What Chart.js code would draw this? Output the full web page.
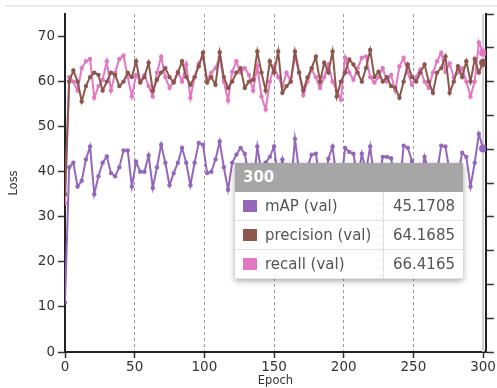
<!DOCTYPE html>
<html>
<head>
<meta charset="utf-8">
<script src="https://cdn.jsdelivr.net/npm/chart.js@4.4.0/dist/chart.umd.min.js"></script>
<style>
    body { margin: 0; background: #fff; }
    #wrap { position: relative; width: 497px; height: 388px; overflow: hidden; }
    #topline { position: absolute; left: 5px; right: 0; top: 5px; border-top: 2px solid #ececec; }
    #tip {
        position: absolute; left: 235px; top: 163px; width: 228px;
        font-family: "DejaVu Sans", sans-serif;
        box-shadow: 0 2px 6px rgba(0, 0, 0, 0.35);
        background: #fff;
    }
    #tip .head {
        height: 29px; line-height: 29px; padding-left: 8px;
        background: rgba(150, 150, 150, 0.85);
        color: #fff; font-weight: bold; font-size: 15px;
    }
    #tip table { border-collapse: collapse; width: 100%; }
    #tip td { height: 28px; border-bottom: 1px solid #e4e4e4; font-size: 15px; color: #555; padding: 0; }
    #tip td.name { padding-left: 8px; border-right: 1px dotted #ccc; width: 140px; white-space: nowrap; }
    #tip td.val { text-align: right; padding-right: 8px; }
    #tip .sw { display: inline-block; width: 14px; height: 12px; margin-right: 8px; vertical-align: -1px; }
</style>
</head>
<body>
<div id="wrap">
    <div id="topline"></div>
    <canvas id="chart" width="497" height="388"></canvas>
    <div id="tip"></div>
</div>
<script>
// Epoch ogni 3 passi (0..300)
const epochs = Array.from({ length: 101 }, (_, i) => i * 3);

// Tick degli assi
const xTicks = [0, 50, 100, 150, 200, 250, 300];
const yTicks = [0, 10, 20, 30, 40, 50, 60, 70];

const seriesNames = ['mAP (val)', 'precision (val)', 'recall (val)'];
const seriesColors = ['#9467bd', '#8c564b', '#e377c2'];
const hoverEpoch = 300;

const mapVal = [
    11, 41, 42, 36.7, 38, 42.7, 45.6, 35, 39, 42,
    43.4, 39.7, 39, 41, 44.7, 44.7, 36.7, 42.2, 40, 40,
    43.6, 36.4, 41, 46, 42, 37, 39.7, 42, 45.3, 42,
    37, 42, 46.4, 46, 39.7, 40, 42.7, 46.7, 41, 36,
    42, 43.8, 45.3, 44, 39, 36, 45.6, 39.7, 42, 43.3,
    45.6, 38, 42.7, 37, 36, 47.3, 40, 37, 41, 43.8,
    44, 38, 36, 42.9, 45.6, 38, 37, 45.3, 44.4, 44,
    38, 44, 40, 45.6, 38, 37, 43.3, 43.3, 43, 38,
    36, 45.8, 45.3, 42.4, 38, 37, 43.3, 40, 37, 40,
    45.8, 45.6, 40, 37, 39, 44.2, 43.3, 36.7, 42, 48.4,
    45.1708
];

const precisionVal = [
    35, 60, 62.5, 60, 55.6, 59, 61, 62, 61.5, 58,
    60, 62, 61.5, 59, 60, 62, 61, 64.5, 59.8, 61,
    64.2, 58, 60.4, 62, 63, 61, 59.8, 62, 64.5, 61,
    59.3, 61, 63.4, 66.4, 59.8, 61, 59.3, 66.5, 61, 58.6,
    60, 62, 63, 58.6, 60, 60.4, 66.7, 62, 58, 64.5,
    62, 66.7, 57.5, 59, 60, 66.7, 62, 58, 60.9, 63,
    65.5, 60, 64.2, 62, 66.7, 56.7, 60, 62, 64.9, 63.8,
    62, 60, 63, 67, 61, 62.2, 60, 61, 59, 58.6,
    56.4, 60, 63.8, 61, 60, 62, 63.8, 60, 57.5, 62,
    63, 65.6, 57.5, 60, 63.4, 61, 64.5, 60, 65, 62,
    64.1685
];

const recallVal = [
    33, 61, 60, 58, 63, 64.5, 65, 56.4, 59, 60.4,
    64.5, 58, 62, 65, 65.8, 61, 56.7, 61.5, 60, 61.5,
    59, 56.7, 62, 65.5, 61, 58.6, 60, 62.2, 60, 63.8,
    56.4, 61, 64, 65.3, 60.4, 62, 63, 65.3, 60, 55.8,
    62.2, 64.5, 62, 63, 61.5, 58, 63.4, 56.7, 53.8, 60,
    63.4, 61, 59, 62, 60, 65.6, 62, 57, 60, 62.7,
    61, 58.6, 61, 63.8, 60, 58, 56, 65.3, 62, 60.4,
    63, 65.3, 65.6, 61, 59.8, 61, 63, 60, 61.5, 58,
    63.4, 65.3, 62, 59.3, 61, 62.7, 60, 58.6, 62, 64.5,
    66.4, 62.2, 64, 60.9, 62, 63, 60, 56.7, 60, 68.7,
    66.4165
];

const seriesValues = [mapVal, precisionVal, recallVal];

// Linea verticale del punto in hover
const hoverLine = {
    id: 'hoverLine',
    beforeDatasetsDraw(chart) {
        const { ctx, chartArea, scales } = chart;
        const x = scales.x.getPixelForValue(hoverEpoch);
        ctx.save();
        ctx.strokeStyle = '#cfcfcf';
        ctx.lineWidth = 2;
        ctx.beginPath();
        ctx.moveTo(x, chartArea.top);
        ctx.lineTo(x, chartArea.bottom);
        ctx.stroke();
        ctx.restore();
    }
};

const datasets = seriesValues.map((vals, i) => ({
    label: seriesNames[i],
    data: vals.map((v, j) => ({ x: epochs[j], y: v })),
    borderColor: seriesColors[i],
    backgroundColor: seriesColors[i],
    borderWidth: 2,
    tension: 0,
    pointRadius: vals.map((v, j) => epochs[j] === hoverEpoch ? 4 : 2.2),
    pointBorderWidth: 0
}));

const tickFont = { family: 'DejaVu Sans', size: 13.5 };
const titleFont = { family: 'DejaVu Sans', size: 11.5 };

new Chart(document.getElementById('chart'), {
    type: 'line',
    data: { datasets },
    plugins: [hoverLine],
    options: {
        responsive: false,
        animation: false,
        events: [],
        layout: { autoPadding: false, padding: { top: 14 } },
        plugins: { legend: { display: false }, tooltip: { enabled: false } },
        scales: {
            x: {
                type: 'linear',
                min: 0,
                max: 302,
                afterBuildTicks: s => { s.ticks = xTicks.map(v => ({ value: v })); },
                afterFit: s => { s.height = 36; },
                ticks: { autoSkip: false, color: '#333', font: tickFont, padding: 1, maxRotation: 0 },
                grid: {
                    color: c => (c.tick && (c.tick.value === 0 || c.tick.value === 300)) ? 'rgba(0,0,0,0)' : '#9a9a9a',
                    lineWidth: 1,
                    tickColor: '#333',
                    tickLength: 6,
                    tickWidth: 1.5
                },
                border: { color: '#222', width: 2, dash: [3, 3] },
                title: { display: true, text: 'Epoch', color: '#333', font: titleFont, padding: 0 }
            },
            y: {
                min: 0,
                max: 75,
                afterBuildTicks: s => { s.ticks = yTicks.map(v => ({ value: v })); },
                afterFit: s => { s.width = 65; },
                ticks: { autoSkip: false, color: '#333', font: tickFont, padding: 3 },
                grid: { drawOnChartArea: false, tickColor: '#333', tickLength: 7, tickWidth: 1.5 },
                border: { color: '#222', width: 2 },
                title: { display: true, text: 'Loss', color: '#333', font: titleFont, padding: { top: 7, bottom: 0 } }
            },
            y2: {
                position: 'right',
                min: 0,
                max: 10,
                afterFit: s => { s.width = 8; },
                ticks: { stepSize: 1, display: false },
                grid: { drawOnChartArea: false, tickColor: '#333', tickLength: 8, tickWidth: 1.5 },
                border: { color: '#222', width: 2 }
            }
        }
    }
});

// Tooltip fisso come nell'immagine (ultimo punto)
const last = epochs.indexOf(hoverEpoch);
document.getElementById('tip').innerHTML =
    `<div class="head">${hoverEpoch}</div><table>` +
    seriesNames.map((name, i) => `
        <tr>
            <td class="name"><span class="sw" style="background:${seriesColors[i]}"></span>${name}</td>
            <td class="val">${seriesValues[i][last]}</td>
        </tr>`).join('') +
    '</table>';
</script>
</body>
</html>
